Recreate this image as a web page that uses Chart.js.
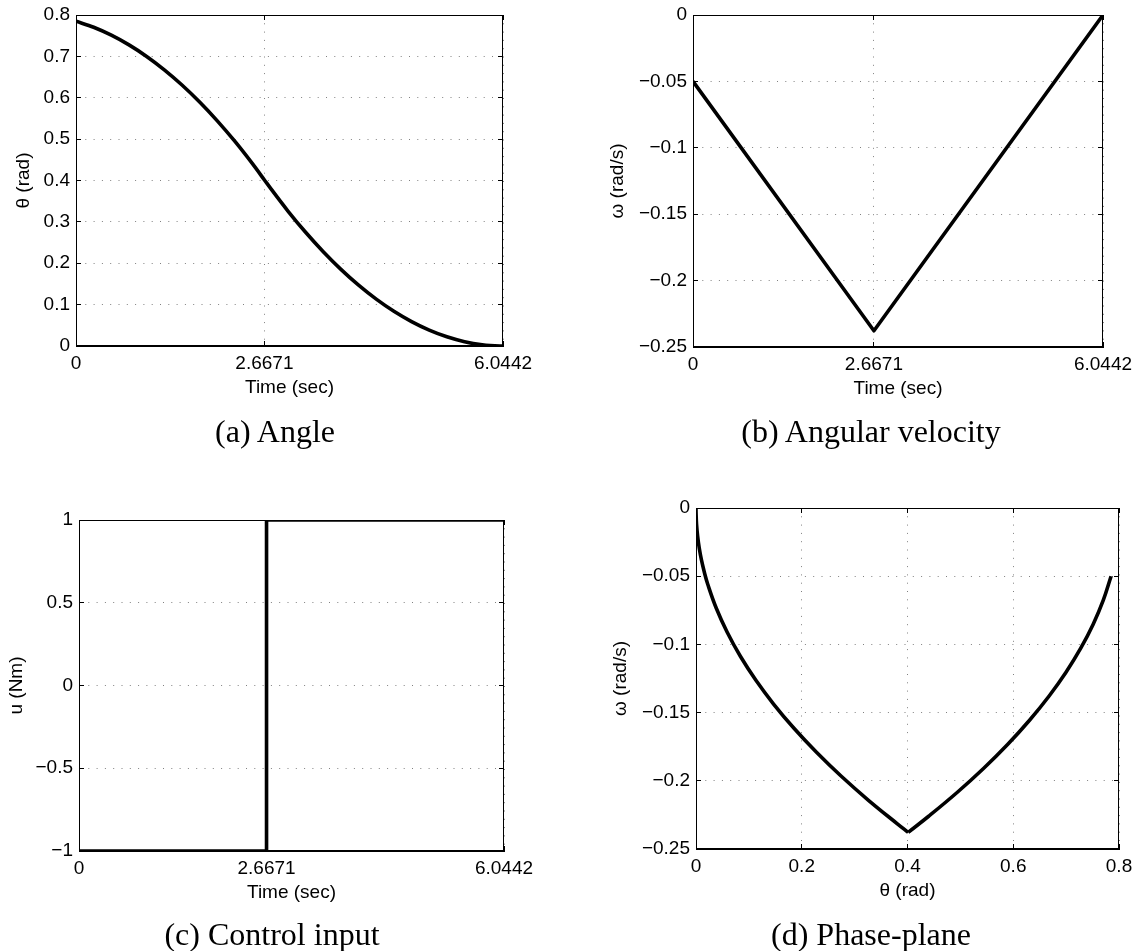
<!DOCTYPE html>
<html><head><meta charset="utf-8">
<script src="https://cdn.jsdelivr.net/npm/chart.js@4"></script>
<style>
html,body{margin:0;padding:0;background:#fff;width:1140px;height:951px;overflow:hidden;position:relative;}
canvas{position:absolute;left:-50px;top:-50px;}
.cap{position:absolute;font-family:'Liberation Serif',serif;font-size:32px;line-height:1;white-space:nowrap;transform:translateX(-50%);color:#000;}
</style></head><body>
<canvas id="ca" width="1240" height="1051"></canvas>
<canvas id="cb" width="1240" height="1051"></canvas>
<canvas id="cc" width="1240" height="1051"></canvas>
<canvas id="cd" width="1240" height="1051"></canvas>
<div class="cap" style="left:275px;top:415px">(a) Angle</div>
<div class="cap" style="left:871px;top:415px">(b) Angular velocity</div>
<div class="cap" style="left:272px;top:918px">(c) Control input</div>
<div class="cap" style="left:871px;top:918px">(d) Phase-plane</div>
<script>
// ---- tick values and labels ----
const timeTicks = [0, 2.6671, 6.0442];
const timeTickLabels = ['0', '2.6671', '6.0442'];
const thetaTicks = [0, 0.1, 0.2, 0.3, 0.4, 0.5, 0.6, 0.7, 0.8];
const thetaTickLabels = ['0', '0.1', '0.2', '0.3', '0.4', '0.5', '0.6', '0.7', '0.8'];
const omegaTicks = [-0.25, -0.2, -0.15, -0.1, -0.05, 0];
const omegaTickLabels = ['\u22120.25', '\u22120.2', '\u22120.15', '\u22120.1', '\u22120.05', '0'];
const uTicks = [-1, -0.5, 0, 0.5, 1];
const uTickLabels = ['\u22121', '\u22120.5', '0', '0.5', '1'];
const phaseThetaTicks = [0, 0.2, 0.4, 0.6, 0.8];
const phaseThetaTickLabels = ['0', '0.2', '0.4', '0.6', '0.8'];

// ---- series ----
const angleTime = [0, 0.25, 0.5, 0.75, 1.0, 1.25, 1.5, 1.75, 2.0, 2.25, 2.5, 2.6671, 2.75, 3.0, 3.25, 3.5, 3.75, 4.0, 4.25, 4.5, 4.75, 5.0, 5.25, 5.5, 5.75, 6.0, 6.0442];
const angle = [0.785, 0.7703, 0.7512, 0.7277, 0.6998, 0.6675, 0.6308, 0.5897, 0.5442, 0.4943, 0.4400, 0.4013, 0.3820, 0.3262, 0.2748, 0.2279, 0.1853, 0.1471, 0.1133, 0.0839, 0.0590, 0.0384, 0.0222, 0.0104, 0.0031, 0.0001, 0];
const velocityTime = [0, 2.6671, 6.0442];
const velocity = [-0.05, -0.2378, 0];
const controlTime = [0, 2.6671, 2.6671, 6.0442];
const control = [-1, -1, 1, 1];
const phaseAngle = [0.785, 0.7703, 0.7512, 0.7277, 0.6998, 0.6675, 0.6308, 0.5897, 0.5442, 0.4943, 0.4400, 0.4013, 0.3820, 0.3262, 0.2748, 0.2279, 0.1853, 0.1471, 0.1133, 0.0839, 0.0590, 0.0384, 0.0222, 0.0158, 0.0104, 0.0062, 0.0031, 0.0010, 0.0001, 0];
const phaseVelocity = [-0.05, -0.0676, -0.0852, -0.1028, -0.1204, -0.1380, -0.1556, -0.1732, -0.1908, -0.2084, -0.2260, -0.2378, -0.2319, -0.2143, -0.1967, -0.1791, -0.1615, -0.1439, -0.1263, -0.1087, -0.0911, -0.0735, -0.0559, -0.0471, -0.0383, -0.0295, -0.0207, -0.0119, -0.0031, 0];
const phaseSwitchIndex = 11;

Chart.defaults.font.family = "'Liberation Sans', Arial, sans-serif";
Chart.defaults.font.size = 19;
Chart.defaults.color = '#000';

const OFF = 50;            // canvas is shifted by -OFF on both sides
const CW = 1240, CH = 1051;
const GRID_COLOR = '#808080';
const TL = -5;
const LINE_W = 3.6;

const frame = {
  id: 'frame',
  beforeDatasetsDraw(c) {
    const a = c.chartArea, ctx = c.ctx;
    ctx.save();
    ctx.strokeStyle = '#000';
    ctx.lineWidth = 1;
    ctx.strokeRect(Math.round(a.left) + 0.5, Math.round(a.top) + 0.5, Math.round(a.right - a.left) - 1, Math.round(a.bottom - a.top) - 1);
    ctx.restore();
  }
};

function pts(xs, ys) { return xs.map((x, i) => ({x: x, y: ys[i]})); }
function fixTicks(values) { return s => { s.ticks = values.map(v => ({value: v})); }; }

function mainAxis(kind, range, ticks, labels, title, size, labelPad, titlePad) {
  const horiz = kind === 'x';
  return {
    type: 'linear',
    position: horiz ? 'bottom' : 'left',
    min: range[0], max: range[1],
    afterBuildTicks: fixTicks(ticks),
    afterFit: s => { if (horiz) s.height = size; else s.width = size; },
    ticks: {callback: (v, i) => labels[i], padding: labelPad, maxRotation: 0, autoSkip: false, color: '#000'},
    grid: {color: GRID_COLOR, lineWidth: 1, drawTicks: true, tickLength: TL, tickColor: '#000', tickWidth: 1},
    border: {display: true, color: '#000', width: 1, dash: [1, 7.3]},
    title: {display: true, text: title, color: '#000',
      padding: horiz ? {top: 0, bottom: titlePad} : {top: titlePad, bottom: 0}}
  };
}
function sideAxis(kind, range, ticks) {
  const horiz = kind === 'x';
  return {
    type: 'linear',
    position: horiz ? 'top' : 'right',
    min: range[0], max: range[1],
    afterBuildTicks: fixTicks(ticks),
    afterFit: s => { if (horiz) s.height = 0; else s.width = 0; },
    ticks: {display: false},
    grid: {drawOnChartArea: false, drawTicks: true, tickLength: TL, tickColor: '#000', tickWidth: 1},
    border: {display: false}
  };
}

// area: [scaleLeft, plotLeft, plotTop, plotRight, plotBottom] in page pixels
function makeChart(id, o) {
  const [sl, L, T, R, B] = o.area;
  new Chart(document.getElementById(id), {
    type: 'line',
    data: {datasets: o.datasets.map(d => Object.assign({
      borderColor: '#000', borderWidth: LINE_W, pointRadius: 0, fill: false,
      tension: 0, borderJoinStyle: 'round', borderCapStyle: 'butt'
    }, d))},
    options: {
      responsive: false, animation: false, events: [],
      layout: {padding: {left: sl + OFF, top: T + OFF, right: CW - (R + OFF), bottom: CH - (B + OFF) - 60}},
      plugins: {legend: {display: false}, tooltip: {enabled: false}},
      scales: {
        x: mainAxis('x', o.xr, o.xt, o.xl, o.xTitle, 60, 11.6, 6.6),
        y: mainAxis('y', o.yr, o.yt, o.yl, o.yTitle, L - sl, 11, o.yTitlePad),
        x2: sideAxis('x', o.xr, o.xt),
        y2: sideAxis('y', o.yr, o.yt)
      }
    },
    plugins: [frame]
  });
}

// (a) Angle
makeChart('ca', {
  area: [0, 76, 15, 503, 346], yTitlePad: 12.6,
  xr: [0, 6.0442], xt: timeTicks, xl: timeTickLabels, xTitle: 'Time (sec)',
  yr: [0, 0.8], yt: thetaTicks, yl: thetaTickLabels, yTitle: '\u03B8 (rad)',
  datasets: [{data: pts(angleTime, angle), cubicInterpolationMode: 'monotone', tension: 0.4}]
});
// (b) Angular velocity
makeChart('cb', {
  area: [560, 693, 15, 1103, 347], yTitlePad: 46.6,
  xr: [0, 6.0442], xt: timeTicks, xl: timeTickLabels, xTitle: 'Time (sec)',
  yr: [-0.25, 0], yt: omegaTicks, yl: omegaTickLabels, yTitle: '\u03C9 (rad/s)',
  datasets: [{data: pts(velocityTime, velocity)}]
});
// (c) Control input
makeChart('cc', {
  area: [0, 79, 520, 504, 851], yTitlePad: 5.6,
  xr: [0, 6.0442], xt: timeTicks, xl: timeTickLabels, xTitle: 'Time (sec)',
  yr: [-1, 1], yt: uTicks, yl: uTickLabels, yTitle: 'u (Nm)',
  datasets: [{data: pts(controlTime, control), borderJoinStyle: 'miter'}]
});
// (d) Phase-plane
makeChart('cd', {
  area: [560, 696, 508, 1119, 849], yTitlePad: 49.1,
  xr: [0, 0.8], xt: phaseThetaTicks, xl: phaseThetaTickLabels, xTitle: '\u03B8 (rad)',
  yr: [-0.25, 0], yt: omegaTicks, yl: omegaTickLabels, yTitle: '\u03C9 (rad/s)',
  datasets: [
    {data: pts(phaseAngle.slice(0, phaseSwitchIndex + 1), phaseVelocity.slice(0, phaseSwitchIndex + 1)), tension: 0.4},
    {data: pts(phaseAngle.slice(phaseSwitchIndex), phaseVelocity.slice(phaseSwitchIndex)), tension: 0.4}
  ]
});
</script>
</body></html>
